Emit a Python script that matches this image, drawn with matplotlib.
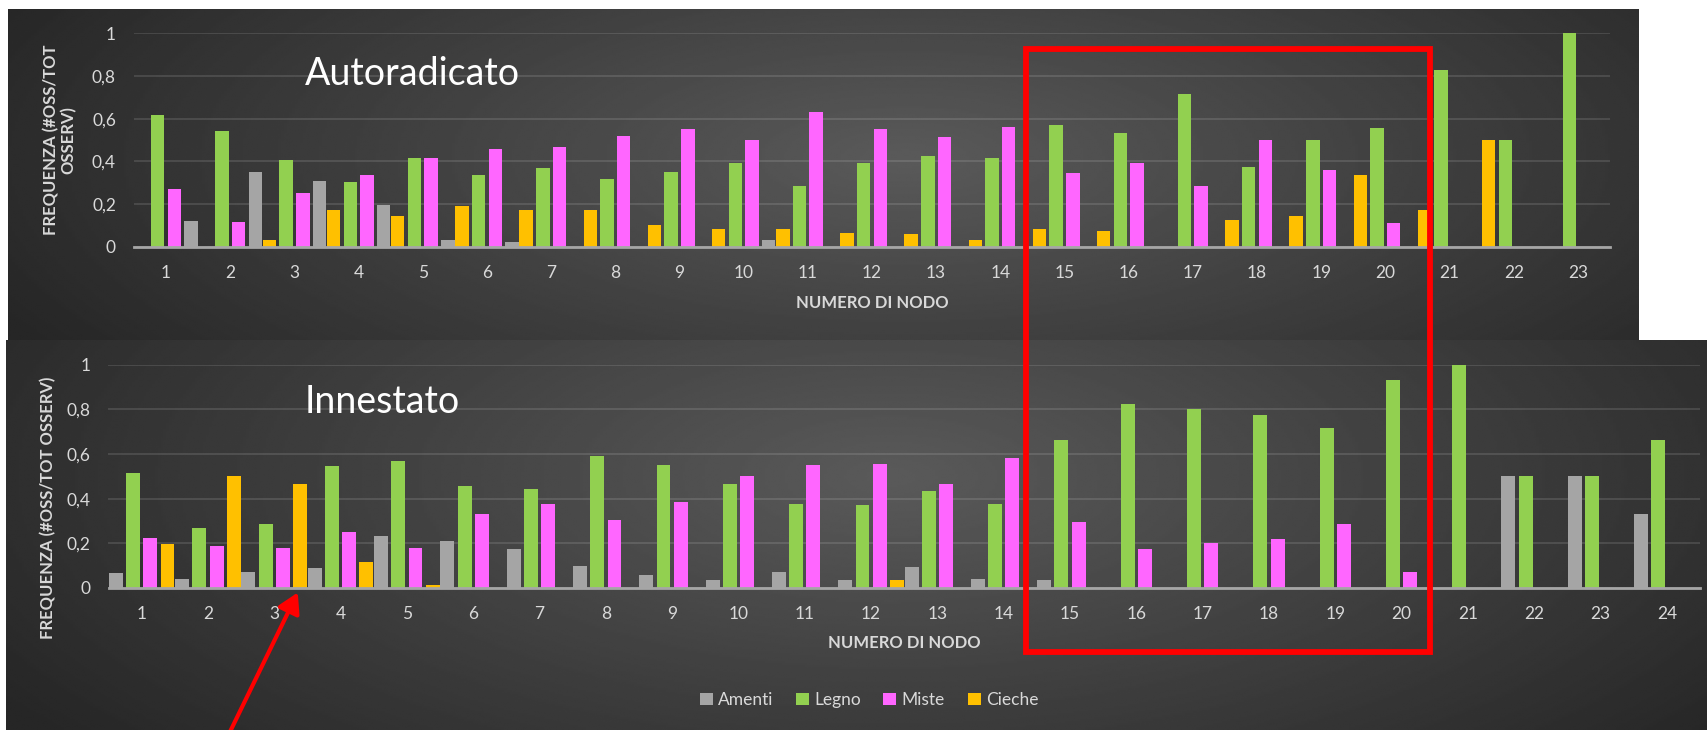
import matplotlib.pyplot as plt
import numpy as np
from matplotlib.patches import Rectangle, FancyArrowPatch

plt.rcParams['font.family'] = ['Lato', 'DejaVu Sans']

series = ['Amenti', 'Legno', 'Miste', 'Cieche']
colors = {'Amenti': '#a5a5a5', 'Legno': '#92d050', 'Miste': '#ff66ff', 'Cieche': '#ffc000'}
ytick_labels = ['0', '0,2', '0,4', '0,6', '0,8', '1']

# Autoradicato, nodi 1-23
auto_nodi = list(range(1, 24))
auto_amenti = [0.12, 0.35, 0.31, 0.195, 0.03, 0.02, 0, 0, 0, 0.03, 0, 0, 0, 0, 0, 0, 0, 0, 0, 0, 0, 0, 0]
auto_legno = [0.615, 0.54, 0.405, 0.305, 0.415, 0.335, 0.37, 0.315, 0.35, 0.39, 0.285, 0.39, 0.425, 0.415,
              0.57, 0.535, 0.715, 0.375, 0.5, 0.555, 0.83, 0.5, 1.0]
auto_miste = [0.27, 0.115, 0.25, 0.335, 0.415, 0.46, 0.465, 0.52, 0.55, 0.5, 0.63, 0.55, 0.515, 0.56,
              0.345, 0.39, 0.285, 0.5, 0.36, 0.11, 0, 0, 0]
auto_cieche = [0, 0, 0.03, 0.17, 0.145, 0.19, 0.17, 0.17, 0.1, 0.085, 0.085, 0.065, 0.06, 0.03,
               0.085, 0.075, 0, 0.125, 0.145, 0.335, 0.17, 0.5, 0]

# Innestato, nodi 1-24
inn_nodi = list(range(1, 25))
inn_amenti = [0.065, 0.04, 0.07, 0.09, 0.235, 0.21, 0.175, 0.10, 0.06, 0.035, 0.07, 0.035, 0.095, 0.04,
              0.035, 0, 0, 0, 0, 0, 0, 0.5, 0.5, 0.33]
inn_legno = [0.515, 0.27, 0.285, 0.545, 0.57, 0.455, 0.445, 0.59, 0.55, 0.465, 0.375, 0.37, 0.435, 0.375,
             0.665, 0.825, 0.80, 0.775, 0.715, 0.93, 1.0, 0.5, 0.5, 0.665]
inn_miste = [0.225, 0.19, 0.18, 0.25, 0.18, 0.33, 0.375, 0.305, 0.385, 0.5, 0.55, 0.555, 0.465, 0.58,
             0.295, 0.175, 0.2, 0.22, 0.285, 0.07, 0, 0, 0, 0]
inn_cieche = [0.195, 0.5, 0.465, 0.115, 0.015, 0, 0, 0, 0, 0, 0, 0.035, 0, 0,
              0, 0, 0, 0, 0, 0, 0, 0, 0, 0]

W, H = 1708, 730
fig = plt.figure(figsize=(W / 100, H / 100), dpi=100, facecolor='white')


def box(x0, y0, x1, y1):
    # pixel box (origin top-left) -> figure fraction rect
    return [x0 / W, 1 - y1 / H, (x1 - x0) / W, (y1 - y0) / H]


def panel(x0, y0, x1, y1, cx, cy):
    bg = fig.add_axes(box(x0, y0, x1, y1))
    bg.axis('off')
    xx, yy = np.meshgrid(np.linspace(0, 1, 600), np.linspace(0, 1, 200))
    d = np.clip(np.sqrt(((xx - cx) / 0.62) ** 2 + ((yy - cy) / 1.1) ** 2), 0, 1)
    light, dark = 0x5a / 255, 0x26 / 255
    bg.imshow(light + (dark - light) * d, cmap='gray', vmin=0, vmax=1, aspect='auto',
              interpolation='bilinear')


def chart(rect, nodi, data, order):
    ax = fig.add_axes(box(*rect))
    ax.set_facecolor('none')
    ax.set_zorder(2)
    x = np.arange(1, len(nodi) + 1)
    for name, off in zip(order, [-0.39, -0.13, 0.13, 0.39]):
        ax.bar(x + off, data[name], width=0.21, color=colors[name], label=name, zorder=3)
    ax.set_xlim(0.5, len(nodi) + 0.5)
    ax.set_ylim(0, 1)
    ax.set_xticks(x)
    ax.set_xticklabels([str(n) for n in nodi])
    ax.set_yticks(np.linspace(0, 1, 6))
    ax.set_yticklabels(ytick_labels)
    ax.tick_params(length=0, colors='#d9d9d9', labelsize=12.5)
    ax.tick_params(axis='x', pad=13)
    ax.tick_params(axis='y', pad=13)
    ax.grid(axis='y', color='white', alpha=0.13, lw=1.3)
    ax.set_axisbelow(True)
    for s in ['top', 'right', 'left']:
        ax.spines[s].set_visible(False)
    ax.spines['bottom'].set_color('#a6a6a6')
    ax.spines['bottom'].set_linewidth(2)
    ax.spines['bottom'].set_zorder(4)
    return ax


panel(8, 9, 1639, 341, 0.55, 0.45)
panel(6, 340, 1708, 730, 0.52, 0.35)

auto = {'Amenti': auto_amenti, 'Legno': auto_legno, 'Miste': auto_miste, 'Cieche': auto_cieche}
inn = {'Amenti': inn_amenti, 'Legno': inn_legno, 'Miste': inn_miste, 'Cieche': inn_cieche}

ax1 = chart((134, 33.3, 1610, 246.7), auto_nodi, auto, ['Cieche', 'Legno', 'Miste', 'Amenti'])
ax2 = chart((108.5, 364.7, 1700, 588), inn_nodi, inn, ['Amenti', 'Legno', 'Miste', 'Cieche'])

txt = '#d9d9d9'
fig.text(305 / W, 1 - 85 / H, 'Autoradicato', fontsize=27, color='white', va='baseline', zorder=5)
fig.text(305 / W, 1 - 413 / H, 'Innestato', fontsize=27, color='white', va='baseline', zorder=5)

fig.text(60 / W, 1 - 140 / H, 'FREQUENZA (#OSS/TOT\nOSSERV)', rotation=90, ha='center', va='center',
         multialignment='center', fontsize=12, fontweight='bold', color=txt, linespacing=1.1)
fig.text(48 / W, 1 - 508 / H, 'FREQUENZA (#OSS/TOT OSSERV)', rotation=90, ha='center', va='center',
         fontsize=12, fontweight='bold', color=txt)

fig.text(872 / W, 1 - 303 / H, 'NUMERO DI NODO', ha='center', va='center', fontsize=12,
         fontweight='bold', color=txt)
fig.text(904 / W, 1 - 643 / H, 'NUMERO DI NODO', ha='center', va='center', fontsize=12,
         fontweight='bold', color=txt)

handles, labels = ax2.get_legend_handles_labels()
fig.legend(handles, labels, loc='center', bbox_to_anchor=(869 / W, 1 - 700 / H), ncol=4, frameon=False,
           fontsize=12.5, labelcolor=txt, handlelength=0.75, handleheight=0.75, handletextpad=0.3,
           columnspacing=1.3)

# red highlight box and arrow
fig.add_artist(Rectangle((1026 / W, 1 - 652 / H), (1430 - 1026) / W, (652 - 49) / H,
                         transform=fig.transFigure, fill=False, edgecolor='#ff0000', lw=4.2, zorder=10))
fig.add_artist(FancyArrowPatch((226 / W, 1 - 740 / H), (299 / W, 1 - 590 / H), transform=fig.transFigure,
                               arrowstyle='-|>,head_length=0.6,head_width=0.35', mutation_scale=20,
                               color='#ff0000', lw=3, zorder=10))

fig.savefig('out.png', dpi=100, facecolor='white')
